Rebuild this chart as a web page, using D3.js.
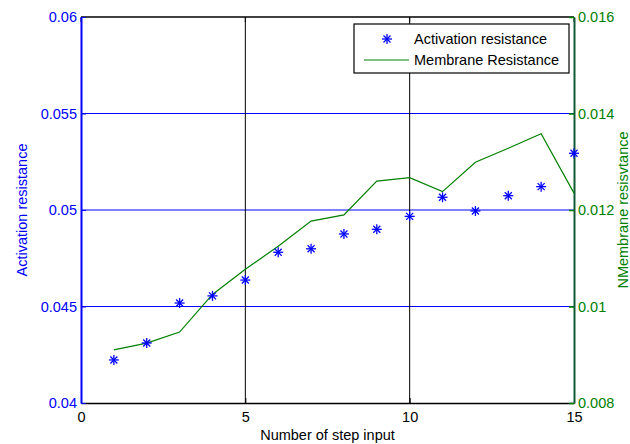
<!DOCTYPE html>
<html lang='en'>
	<head>
		<meta charset="utf-8">
		<title>Activation and membrane resistance</title>
		<script type="text/javascript" src="https://cdnjs.cloudflare.com/ajax/libs/d3/7.8.5/d3.min.js"></script>
		<style>
			body { margin: 0; background: #fff; }
			svg { display: block; font-family: "Liberation Sans", Arial, sans-serif; }
		</style>
	</head>
	<body>
		<div id="chart"></div>
		<script type="text/javascript">
			// step inputs
			var steps = [1, 2, 3, 4, 5, 6, 7, 8, 9, 10, 11, 12, 13, 14, 15];
			// activation resistance (left axis, stars)
			var activation = [0.04223, 0.04311, 0.04518, 0.04555, 0.04637, 0.04781, 0.04799, 0.04876,
				0.04900, 0.04967, 0.05066, 0.04995, 0.05074, 0.05121, 0.05294];
			// membrane resistance (right axis, line)
			var membrane = [0.00910, 0.00924, 0.00947, 0.01025, 0.01077, 0.01125, 0.01177, 0.01190,
				0.01260, 0.01267, 0.01238, 0.01299, 0.01328, 0.01358, 0.01235];

			var xTicks = [0, 5, 10, 15];
			var leftTicks = [0.04, 0.045, 0.05, 0.055, 0.06];
			var rightTicks = [0.008, 0.01, 0.012, 0.014, 0.016];

			var w = 630;
			var h = 444;
			var padL = 81, padR = 574, padT = 17, padB = 403;
			var blue = "#0000ff";
			var green = "#008000";
			var fs = "14.5px";
			var ff = "Liberation Sans, Arial, sans-serif";

			var xScale = d3.scaleLinear().domain([0, 15]).range([padL, padR]);
			var yLeft = d3.scaleLinear().domain([0.04, 0.06]).range([padB, padT]);
			var yRight = d3.scaleLinear().domain([0.008, 0.016]).range([padB, padT]);

			var svg = d3.select("#chart").append("svg").attr("width", w).attr("height", h);

			// grid
			svg.selectAll()
				.data(leftTicks.slice(1, -1))
				.enter()
				.append("line")
				.attr("x1", padL).attr("x2", padR)
				.attr("y1", function(d) { return yLeft(d); })
				.attr("y2", function(d) { return yLeft(d); })
				.attr("stroke", blue)
				.attr("stroke-width", 1);

			svg.selectAll()
				.data(xTicks.slice(1, -1))
				.enter()
				.append("line")
				.attr("y1", padT).attr("y2", padB)
				.attr("x1", function(d) { return xScale(d); })
				.attr("x2", function(d) { return xScale(d); })
				.attr("stroke", "#000")
				.attr("stroke-width", 1);

			// frame top
			svg.append("line").attr("x1", padL).attr("x2", padR).attr("y1", padT).attr("y2", padT)
				.attr("stroke", "#000").attr("stroke-width", 1.5);

			// bottom axis
			var xAxis = d3.axisBottom(xScale).tickValues(xTicks).tickSizeInner(-5).tickSizeOuter(0).tickPadding(9);
			var gx = svg.append("g")
				.attr("transform", "translate(0," + padB + ")")
				.call(xAxis);
			gx.select(".domain").attr("stroke", "#000").attr("stroke-width", 1.5);
			gx.selectAll("line").attr("stroke", "#000");
			gx.selectAll("text").attr("fill", "#000").style("font-size", fs).style("font-family", ff);

			// top ticks
			svg.selectAll()
				.data(xTicks)
				.enter()
				.append("line")
				.attr("x1", function(d) { return xScale(d); })
				.attr("x2", function(d) { return xScale(d); })
				.attr("y1", padT).attr("y2", padT + 5)
				.attr("stroke", "#000");

			// left axis
			var leftAxis = d3.axisLeft(yLeft).tickValues(leftTicks).tickFormat(function(d) { return String(+d.toFixed(3)); })
				.tickSizeInner(-5).tickSizeOuter(0).tickPadding(4);
			var gl = svg.append("g")
				.attr("transform", "translate(" + padL + ",0)")
				.call(leftAxis);
			gl.select(".domain").attr("stroke", blue).attr("stroke-width", 2);
			gl.selectAll("line").attr("stroke", blue);
			gl.selectAll("text").attr("fill", blue).style("font-size", fs).style("font-family", ff);

			// right axis
			var rightAxis = d3.axisRight(yRight).tickValues(rightTicks).tickFormat(function(d) { return String(+d.toFixed(3)); })
				.tickSizeInner(-5).tickSizeOuter(0).tickPadding(4);
			var gr = svg.append("g")
				.attr("transform", "translate(" + padR + ",0)")
				.call(rightAxis);
			gr.select(".domain").attr("stroke", "#115a35").attr("stroke-width", 2);
			gr.selectAll("line").attr("stroke", green).attr("stroke-width", 1.5);
			gr.selectAll("text").attr("fill", green).style("font-size", fs).style("font-family", ff);

			// axis titles
			svg.append("text")
				.attr("transform", "translate(27," + ((padT + padB) / 2) + ") rotate(-90)")
				.attr("text-anchor", "middle")
				.attr("fill", blue)
				.style("font-size", fs)
				.text("Activation resistance");

			svg.append("text")
				.attr("transform", "translate(628," + ((padT + padB) / 2) + ") rotate(-90)")
				.attr("text-anchor", "middle")
				.attr("fill", green)
				.style("font-size", fs)
				.text("NMembrane resisvtance");

			svg.append("text")
				.attr("x", (padL + padR) / 2)
				.attr("y", 440)
				.attr("text-anchor", "middle")
				.attr("fill", "#000")
				.style("font-size", fs)
				.text("Number of step input");

			// membrane line
			var line = d3.line()
				.x(function(d, i) { return xScale(steps[i]); })
				.y(function(d) { return yRight(d); });

			svg.append("path")
				.datum(membrane)
				.attr("d", line)
				.attr("fill", "none")
				.attr("stroke", green)
				.attr("stroke-width", 1.2);

			// star markers
			var star = function(sel, r) {
				sel.append("line").attr("x1", -r).attr("x2", r).attr("y1", 0).attr("y2", 0);
				sel.append("line").attr("x1", 0).attr("x2", 0).attr("y1", -r).attr("y2", r);
				sel.append("line").attr("x1", -r * 0.7).attr("x2", r * 0.7).attr("y1", -r * 0.7).attr("y2", r * 0.7);
				sel.append("line").attr("x1", -r * 0.7).attr("x2", r * 0.7).attr("y1", r * 0.7).attr("y2", -r * 0.7);
			};

			var stars = svg.selectAll()
				.data(activation)
				.enter()
				.append("g")
				.attr("transform", function(d, i) { return "translate(" + xScale(steps[i]) + "," + yLeft(d) + ")"; })
				.attr("stroke", blue)
				.attr("stroke-width", 1.3);
			star(stars, 5);

			// legend
			var lg = svg.append("g");
			lg.append("rect")
				.attr("x", 354).attr("y", 24)
				.attr("width", 215).attr("height", 49)
				.attr("fill", "#fff")
				.attr("stroke", "#000")
				.attr("stroke-width", 1.2);
			var ls = lg.append("g")
				.attr("transform", "translate(387,39)")
				.attr("stroke", blue)
				.attr("stroke-width", 1.3);
			star(ls, 5);
			lg.append("line")
				.attr("x1", 364).attr("x2", 409)
				.attr("y1", 60).attr("y2", 60)
				.attr("stroke", green)
				.attr("stroke-width", 1.2);
			lg.append("text")
				.attr("x", 414).attr("y", 44)
				.attr("fill", "#000")
				.style("font-size", fs)
				.text("Activation resistance");
			lg.append("text")
				.attr("x", 414).attr("y", 65)
				.attr("fill", "#000")
				.style("font-size", fs)
				.text("Membrane Resistance");
		</script>
	</body>
</html>
